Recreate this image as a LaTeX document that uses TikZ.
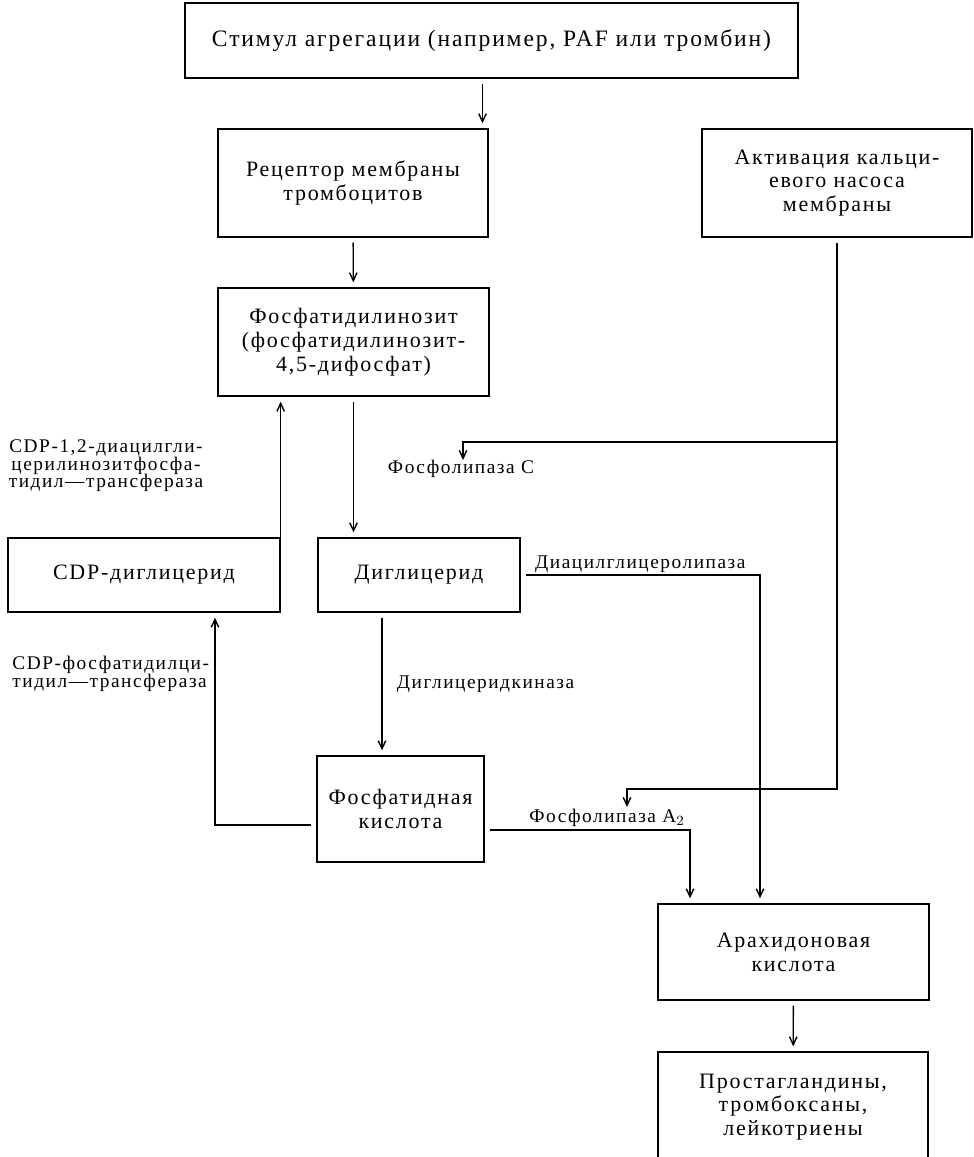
\documentclass[tikz,border=0pt]{standalone}
\usepackage{fontspec}
\setmainfont[LetterSpace=8]{Liberation Serif}
\usetikzlibrary{arrows.meta, positioning}

\begin{document}
\begin{tikzpicture}[
    x=0.02cm, y=-0.02cm,
    line width=0.8pt,
    block/.style={
        draw,
        rectangle,
        align=center,
        inner sep=0pt,
        font=\fontsize{12.5}{13.5}\selectfont
    },
    enzyme/.style={inner sep=1pt, font=\fontsize{11}{10}\selectfont},
    arrow/.style={-{Straight Barb[length=1.6mm, width=1.5mm]}, shorten <=1mm, shorten >=1mm},
    branch/.style={-{Straight Barb[length=1.6mm, width=1.5mm]}, shorten <=1mm}
]
\fill[white] (0,0) rectangle (974,1157);
\useasboundingbox (0,0) rectangle (974,1157);

% === Top row ===
\node[block, minimum width=12.26cm, minimum height=1.5cm, font=\fontsize{13.4}{14}\selectfont] (stimulus) at (491.5,40.5) {Стимул агрегации (например, PAF или тромбин)};
\node[block, minimum width=5.4cm, minimum height=2.16cm] (receptor) at (353,183) {Рецептор мембраны\\тромбоцитов};
\node[block, minimum width=5.4cm, minimum height=2.16cm] (capump) at (837,183) {Активация кальци-\\евого насоса\\мембраны};

% === Inositol cycle ===
\node[block, minimum width=5.42cm, minimum height=2.16cm] (pip) at (353.5,342) {Фосфатидилинозит\\(фосфатидилинозит-\\4,5-дифосфат)};
\node[block, minimum width=5.44cm, minimum height=1.48cm] (cdpdag) at (144,575) {CDP-диглицерид};
\node[block, minimum width=4.04cm, minimum height=1.48cm] (dag) at (419,575) {Диглицерид};
\node[block, minimum width=3.34cm, minimum height=2.12cm] (pacid) at (400.5,809) {Фосфатидная\\кислота};

% === Eicosanoids ===
\node[block, minimum width=5.42cm, minimum height=1.92cm] (arach) at (793.5,952) {Арахидоновая\\кислота};
\node[block, minimum width=5.4cm, minimum height=2.2cm] (prost) at (793,1107) {Простагландины,\\тромбоксаны,\\лейкотриены};

% === Enzymes ===
\node[enzyme, align=center] (cdsynth) at (106,466) {CDP-1,2-диацилгли-\\церилинозитфосфа-\\тидил—трансфераза};
\node[enzyme, align=left, anchor=west] (cdptrans) at (10,674) {CDP-фосфатидилци-\\тидил—трансфераза};
\node[enzyme] (plc) at (461,469) {Фосфолипаза C};
\node[enzyme] (pla) at (607,818) {Фосфолипаза A$_2$};
\coordinate (plcturn) at (463,442);
\coordinate (plctip) at (463,460);
\coordinate (platurn) at (627,789);
\coordinate (platip) at (627,807);

% ============ ARROWS ============
\draw[arrow] ([xshift=-1.8mm]stimulus.south) -- ([xshift=-1.8mm]stimulus.south |- receptor.north);
\draw[arrow] (receptor) -- (pip);
\draw[arrow] (pip.south) -- (pip.south |- dag.north);
\draw[arrow, shorten <=0pt] (cdpdag.north east) -- (cdpdag.north east |- pip.south);
\draw[arrow] ([xshift=-7.4mm]dag.south) -- node[enzyme, right=2.5mm] (dgk) {Диглицеридкиназа} ([xshift=-7.4mm]dag.south |- pacid.north);
\draw[arrow] ([yshift=-3.2mm]pacid.west) -| ([xshift=1.42cm]cdpdag.south);

% Calcium pump activates both lipases
\draw[branch] (capump.south) |- (plcturn) -- (plctip);
\draw[branch] (capump.south) |- (platurn) -- (platip);

% Release of arachidonic acid
\draw[arrow] (dag.east) -| node[enzyme, pos=0.25, above] (dagl) {Диацилглицеролипаза} ([xshift=-6.7mm]arach.north);
\draw[arrow] ([yshift=-4.2mm]pacid.east) -| ([xshift=-2.07cm]arach.north);
\draw[arrow] (arach) -- (prost);

\end{tikzpicture}
\end{document}
